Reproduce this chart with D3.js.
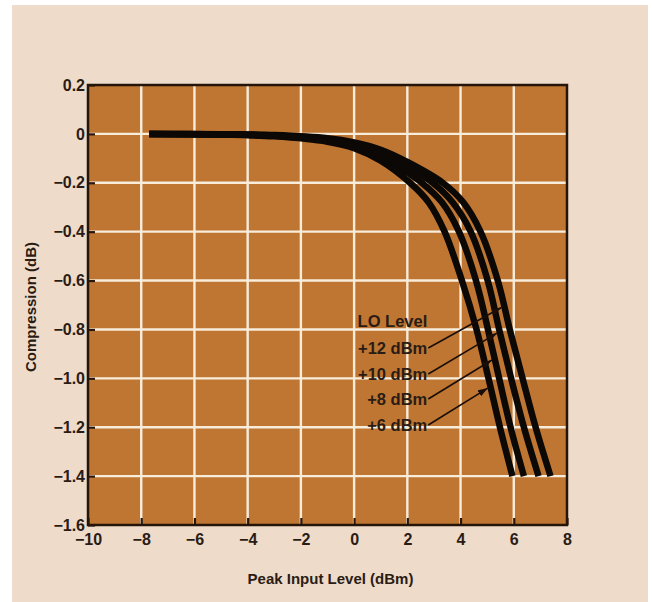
<!DOCTYPE html>
<html>
<head>
<meta charset="utf-8">
<script src="https://cdn.jsdelivr.net/npm/d3@7"></script>
<style>
  body { margin: 0; background: #fff; }
  text { font-family: "Liberation Sans", Arial, sans-serif; font-weight: bold; fill: #2a1c14; }
</style>
</head>
<body>
<svg width="652" height="602"></svg>
<script>
const svg = d3.select('svg');

// axis ticks
const xTicks = [-10, -8, -6, -4, -2, 0, 2, 4, 6, 8];
const yTicks = [0.2, 0, -0.2, -0.4, -0.6, -0.8, -1.0, -1.2, -1.4, -1.6];

// LO level series, [peak input dBm, compression dB]
const loLevels = ['+12 dBm', '+10 dBm', '+8 dBm', '+6 dBm'];
const lo12 = [[-7.7, 0], [-5, -0.001], [-3, -0.005], [-1, -0.018], [0, -0.035], [1, -0.065], [2, -0.115], [3.33, -0.2], [4.1, -0.28], [4.75, -0.4], [5.4, -0.6], [5.85, -0.8], [6.33, -1.0], [6.82, -1.2], [7.38, -1.4]];
const lo10 = [[-7.7, 0], [-5, -0.002], [-3, -0.007], [-1, -0.022], [0, -0.042], [1, -0.078], [2, -0.135], [2.95, -0.2], [3.7, -0.28], [4.38, -0.4], [5.02, -0.6], [5.45, -0.8], [5.9, -1.0], [6.38, -1.2], [6.93, -1.4]];
const lo8 = [[-7.7, 0], [-5, -0.002], [-3, -0.008], [-1, -0.027], [0, -0.05], [1, -0.092], [2, -0.158], [2.54, -0.2], [3.3, -0.28], [3.94, -0.4], [4.58, -0.6], [5.03, -0.8], [5.45, -1.0], [5.88, -1.2], [6.38, -1.4]];
const lo6 = [[-7.7, 0], [-5, -0.003], [-3, -0.01], [-1, -0.032], [0, -0.058], [1, -0.11], [2.1, -0.2], [2.8, -0.28], [3.4, -0.4], [4.05, -0.6], [4.6, -0.8], [5.05, -1.0], [5.48, -1.2], [5.95, -1.4]];
const series = [lo12, lo10, lo8, lo6];

// where each leader line meets its curve (compression dB)
const leaderY = [-0.71, -0.815, -0.925, -1.04];

const plotL = 88, plotR = 567, plotT = 85, plotB = 525;

const x = d3.scaleLinear().domain([-10, 8]).range([plotL, plotR]);
const y = d3.scaleLinear().domain([-1.6, 0.2]).range([plotB, plotT]);

// paper
svg.append('rect')
    .attr('x', 12).attr('y', 5)
    .attr('width', 636).attr('height', 597)
    .attr('fill', '#eedbca');

svg.append('rect')
    .attr('x', plotL).attr('y', plotT)
    .attr('width', plotR - plotL).attr('height', plotB - plotT)
    .attr('fill', '#bf7632');

// grid
svg.append('g').selectAll('line').data(xTicks.slice(1, -1)).join('line')
    .attr('x1', d => x(d)).attr('x2', d => x(d))
    .attr('y1', plotT).attr('y2', plotB)
    .attr('stroke', '#f8ecdb').attr('stroke-width', 2.4);

svg.append('g').selectAll('line').data(yTicks.slice(1, -1)).join('line')
    .attr('x1', plotL).attr('x2', plotR)
    .attr('y1', d => y(d)).attr('y2', d => y(d))
    .attr('stroke', '#f8ecdb').attr('stroke-width', 2.4);

// axes with inward ticks
const fmtY = d => d === 0 ? '0' : d3.format('.1f')(d);

const yAxis = svg.append('g')
    .attr('transform', `translate(${plotL},0)`)
    .call(d3.axisLeft(y).tickValues(yTicks).tickFormat(fmtY).tickSizeInner(-7).tickSizeOuter(0).tickPadding(5));

const xAxis = svg.append('g')
    .attr('transform', `translate(0,${plotB})`)
    .call(d3.axisBottom(x).tickValues(xTicks).tickFormat(d3.format('d')).tickSizeInner(-7).tickSizeOuter(0).tickPadding(10));

[yAxis, xAxis].forEach(a => {
    a.select('.domain').remove();
    a.selectAll('line').attr('stroke', '#2a160a').attr('stroke-width', 2.2);
    a.selectAll('text')
        .attr('font-size', 16)
        .attr('font-family', '"Liberation Sans", Arial, sans-serif')
        .attr('font-weight', 'bold')
        .attr('fill', '#2a1c14');
});
yAxis.selectAll('text').attr('dx', 2);
xAxis.selectAll('text').attr('dy', '0.62em');

svg.append('rect')
    .attr('x', plotL).attr('y', plotT)
    .attr('width', plotR - plotL).attr('height', plotB - plotT)
    .attr('fill', 'none')
    .attr('stroke', '#24140a').attr('stroke-width', 2.5);

// curves
const line = d3.line()
    .x(d => x(d[0]))
    .y(d => y(d[1]))
    .curve(d3.curveCatmullRom.alpha(0.5));

svg.append('g').selectAll('path').data(series).join('path')
    .attr('d', line)
    .attr('fill', 'none')
    .attr('stroke', '#0c0806')
    .attr('stroke-width', 6.5);

// labels
const xAt = (pts, v) => {
    for (let i = 1; i < pts.length; i++) {
        const a = pts[i - 1], b = pts[i];
        if (v <= a[1] && v >= b[1]) {
            return a[0] + (b[0] - a[0]) * (v - a[1]) / (b[1] - a[1]);
        }
    }
    return pts[pts.length - 1][0];
};

svg.append('defs').append('marker')
    .attr('id', 'arrow')
    .attr('viewBox', '0 -4 10 8')
    .attr('refX', 10).attr('refY', 0)
    .attr('markerWidth', 10).attr('markerHeight', 8)
    .attr('markerUnits', 'userSpaceOnUse')
    .attr('orient', 'auto')
    .append('path')
    .attr('d', 'M0,-3.5L10,0L0,3.5Z')
    .attr('fill', '#1a0e08');

const labelX = x(2.75);
const labelBase = [354, 380, 405, 431].map(v => y.invert(v));

svg.append('text')
    .attr('x', labelX).attr('y', y(y.invert(327)))
    .attr('text-anchor', 'end')
    .attr('font-size', 16.5)
    .text('LO Level');

loLevels.forEach((name, i) => {
    const by = y(labelBase[i]);
    svg.append('text')
        .attr('x', labelX).attr('y', by)
        .attr('text-anchor', 'end')
        .attr('font-size', 16.5)
        .text(name);
    svg.append('line')
        .attr('x1', labelX + 1).attr('y1', by - 6)
        .attr('x2', x(xAt(series[i], leaderY[i])) - 3).attr('y2', y(leaderY[i]))
        .attr('stroke', '#1a0e08').attr('stroke-width', 1.6)
        .attr('marker-end', 'url(#arrow)');
});

// axis titles
svg.append('text')
    .attr('x', (plotL + plotR) / 2 + 3).attr('y', 584)
    .attr('text-anchor', 'middle')
    .attr('font-size', 15)
    .text('Peak Input Level (dBm)');

svg.append('text')
    .attr('transform', `translate(36,${(plotT + plotB) / 2 + 2}) rotate(-90)`)
    .attr('text-anchor', 'middle')
    .attr('font-size', 15)
    .text('Compression (dB)');
</script>
</body>
</html>
